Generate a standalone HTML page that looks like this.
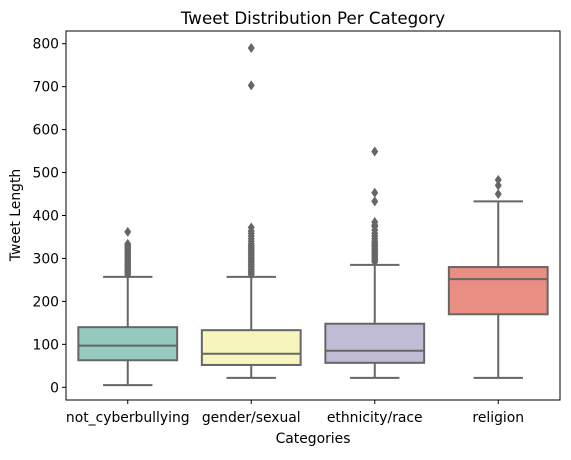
<!DOCTYPE html>
<html><head><meta charset="utf-8"><style>
body{margin:0;background:#fff;font-family:"Liberation Sans","DejaVu Sans",sans-serif}
svg text{font-family:"DejaVu Sans","Liberation Sans",sans-serif;fill:#000}
</style></head><body>
<svg id="c" width="571" height="455"></svg>
<script>
const categories=["not_cyberbullying","gender/sexual","ethnicity/race","religion"];
const colors=["#96cac1","#f6f6bc","#c0bcd6","#e98e82"];
const whiskerLow=[5,22,22,22];
const q1=[63,52,57,170];
const medians=[97,78,85,252];
const q3=[140,133,148,280];
const whiskerHigh=[257,257,285,433];
const outliers=[
 [262,266,270,274,278,282,286,290,294,298,302,306,310,314,318,322,326,330,334,362],
 [262,266,270,274,278,282,286,290,294,298,302,306,310,314,318,322,326,330,334,340,346,352,358,364,372,703,790],
 [292,296,300,304,308,312,316,320,324,328,332,336,340,346,352,358,366,374,378,385,433,453,549],
 [450,470,483]
];
const yTicks=[0,100,200,300,400,500,600,700,800];
const NS="http://www.w3.org/2000/svg",svg=document.getElementById("c");
const L=66,R=560,T=31,B=400;
const y=v=>387.3-v*0.4295;
const band=(R-L)/categories.length;
const x=i=>L+band*(i+0.5);
function mk(t,a,p){const e=document.createElementNS(NS,t);for(const k in a)e.setAttribute(k,a[k]);(p||svg).appendChild(e);return e;}
const G="#666";
categories.forEach((c,i)=>{
 const cx=x(i),w=band*0.8,cap=w/2;
 const g=mk("g",{});
 
 
 mk("line",{x1:cx,x2:cx,y1:y(whiskerLow[i]),y2:y(q1[i]),stroke:G,"stroke-width":2},g);
 mk("line",{x1:cx,x2:cx,y1:y(q3[i]),y2:y(whiskerHigh[i]),stroke:G,"stroke-width":2},g);
 mk("line",{x1:cx-cap/2,x2:cx+cap/2,y1:y(whiskerLow[i]),y2:y(whiskerLow[i]),stroke:G,"stroke-width":2},g);
 mk("line",{x1:cx-cap/2,x2:cx+cap/2,y1:y(whiskerHigh[i]),y2:y(whiskerHigh[i]),stroke:G,"stroke-width":2},g);
 mk("rect",{x:cx-w/2,y:y(q3[i]),width:w,height:y(q1[i])-y(q3[i]),fill:colors[i],stroke:G,"stroke-width":2},g);
 mk("line",{x1:cx-w/2,x2:cx+w/2,y1:y(medians[i]),y2:y(medians[i]),stroke:G,"stroke-width":2},g);
 outliers[i].forEach(v=>{const yy=y(v);
  const d=mk("polygon",{points:`${cx},${yy-5} ${cx+3.5},${yy} ${cx},${yy+5} ${cx-3.5},${yy}`,fill:G},g);
  
  });
 const t=mk("text",{x:cx,y:B+22,"text-anchor":"middle","font-size":13.9});t.textContent=c;
 
 
 mk("line",{x1:cx,x2:cx,y1:B,y2:B+4,stroke:"#000"});
});
yTicks.forEach(v=>{
 mk("line",{x1:L-4,x2:L,y1:y(v),y2:y(v),stroke:"#000"});
 const t=mk("text",{x:L-7,y:y(v)+5,"text-anchor":"end","font-size":13.9});t.textContent=v;
 
 
});
const f=mk("rect",{x:L,y:T,width:R-L,height:B-T,fill:"none",stroke:"#000","stroke-width":1});


let t=mk("text",{x:(L+R)/2,y:24,"text-anchor":"middle","font-size":16.7});t.textContent="Tweet Distribution Per Category";


t=mk("text",{x:(L+R)/2,y:443,"text-anchor":"middle","font-size":13.9});t.textContent="Categories";


t=mk("text",{x:20,y:215,"text-anchor":"middle","font-size":13.9,transform:"rotate(-90 20 215)"});t.textContent="Tweet Length";


</script>
</body></html>
